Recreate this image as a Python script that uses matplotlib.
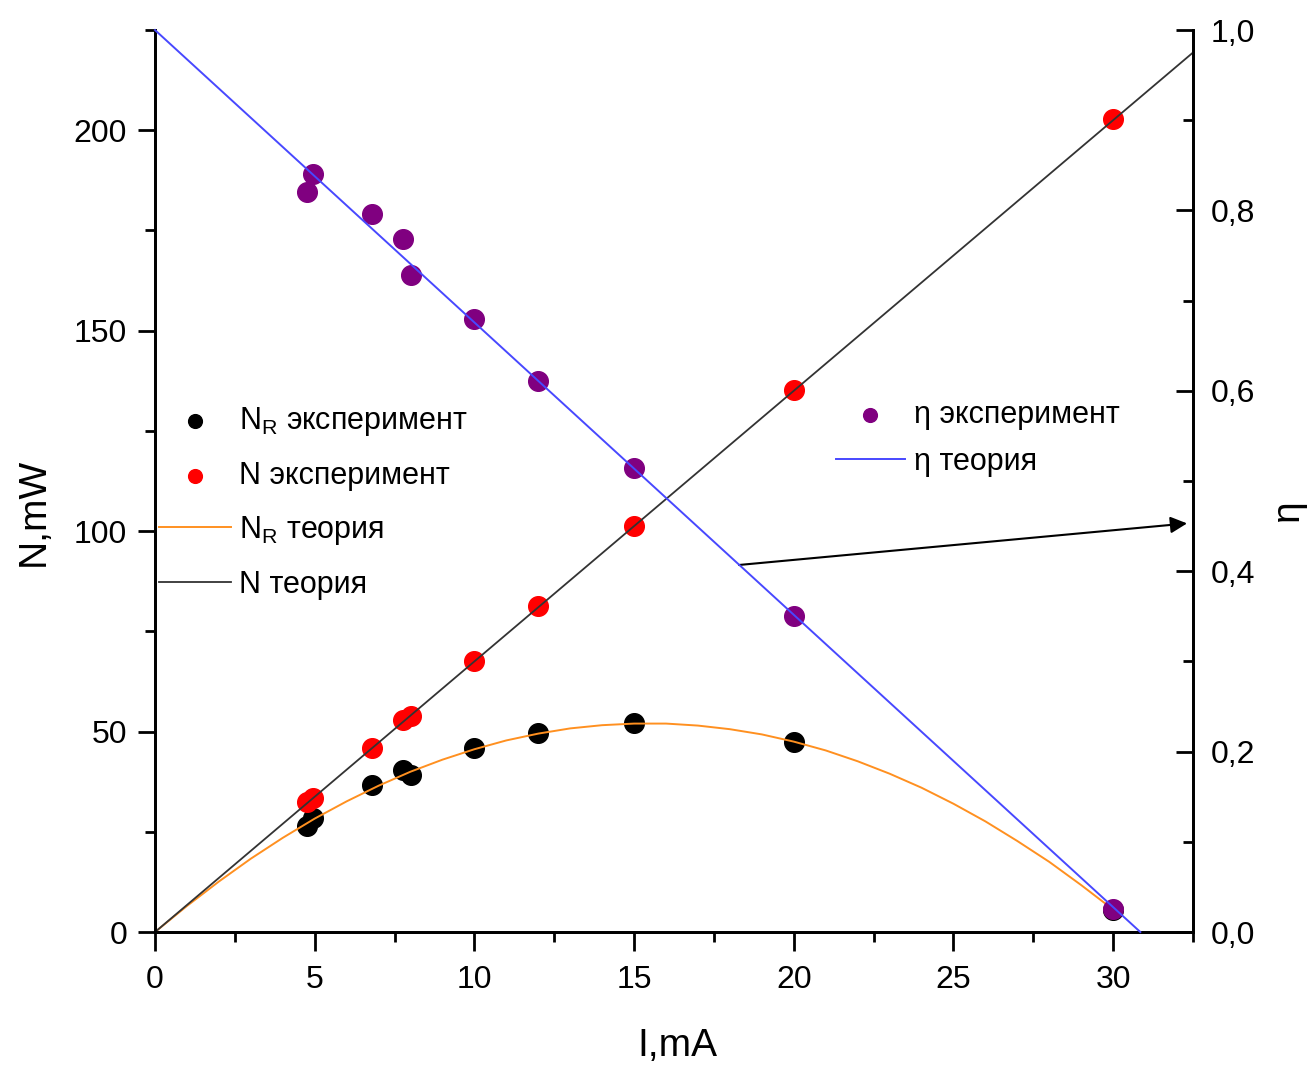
import matplotlib
matplotlib.use("Agg")
import matplotlib.pyplot as plt
from matplotlib.ticker import MultipleLocator, FuncFormatter

plt.rcParams['font.family'] = ['Liberation Sans', 'DejaVu Sans']
plt.rcParams['mathtext.fontset'] = 'custom'
plt.rcParams['mathtext.rm'] = 'Liberation Sans'
plt.rcParams['mathtext.it'] = 'Liberation Sans'

# experimental data, current in mA
I_exp = [4.75, 4.95, 6.8, 7.75, 8.0, 10.0, 12.0, 15.0, 20.0, 30.0]
NR_exp = [26.4, 28.4, 36.7, 40.4, 39.2, 45.9, 49.6, 52.1, 47.4, 5.4]
N_exp = [32.4, 33.4, 45.9, 52.9, 53.9, 67.6, 81.3, 101.2, 135.2, 202.7]
eta_exp = [0.821, 0.840, 0.796, 0.768, 0.728, 0.680, 0.611, 0.514, 0.350, 0.026]

# theory curves
I_N_th = [0, 32.5]
N_th = [0, 219.4]
I_eta_th = [0, 30.85]
eta_th = [1.0, 0.0]
I_NR_th = list(range(0, 31))
NR_th = [0, 6.5, 12.6, 18.3, 23.5, 28.3, 32.6, 36.5, 40.0, 43.0, 45.6,
         47.8, 49.5, 50.8, 51.6, 52.0, 52.0, 51.5, 50.6, 49.3, 47.5,
         45.3, 42.6, 39.5, 36.0, 32.0, 27.6, 22.7, 17.5, 11.7, 5.6]

fig = plt.figure(figsize=(13.07, 10.81), dpi=100)
ax = fig.add_axes([0.1186, 0.1378, 0.7942, 0.8344])
ax2 = ax.twinx()

ax.scatter(I_exp, NR_exp, s=200, color='black', zorder=2, label=r'N$_\mathrm{R}$ эксперимент')
ax.scatter(I_exp, N_exp, s=200, color='#ff0000', zorder=2, label='N эксперимент')
ax.plot(I_NR_th, NR_th, color='#ff9020', lw=1.4, zorder=3, label=r'N$_\mathrm{R}$ теория')
ax.plot(I_N_th, N_th, color='#333333', lw=1.3, zorder=3, label='N теория')

ax2.scatter(I_exp, eta_exp, s=200, color='#800080', zorder=2, label='η эксперимент')
ax2.plot(I_eta_th, eta_th, color='#4848ff', lw=1.4, zorder=3, label='η теория', clip_on=False)

ax.set_xlim(0, 32.5)
ax.set_ylim(0, 225)
ax2.set_ylim(0, 1.0)

for a in (ax, ax2):
    a.spines['top'].set_visible(False)
    for s in a.spines.values():
        s.set_linewidth(2)

ax.xaxis.set_major_locator(MultipleLocator(5))
ax.xaxis.set_minor_locator(MultipleLocator(2.5))
ax.yaxis.set_major_locator(MultipleLocator(50))
ax.yaxis.set_minor_locator(MultipleLocator(25))
ax2.yaxis.set_major_locator(MultipleLocator(0.2))
ax2.yaxis.set_minor_locator(MultipleLocator(0.1))
ax2.yaxis.set_major_formatter(FuncFormatter(lambda v, p: f"{v:.1f}".replace('.', ',')))

ax.tick_params(axis='x', which='major', direction='out', length=14, width=2, labelsize=23, pad=10)
ax.tick_params(axis='x', which='minor', direction='out', length=7, width=2)
ax.tick_params(axis='y', which='major', direction='out', length=12, width=2, labelsize=23, pad=8)
ax.tick_params(axis='y', which='minor', direction='out', length=7, width=2)
ax2.tick_params(axis='y', which='major', direction='in', length=12, width=2, labelsize=23, pad=13)
ax2.tick_params(axis='y', which='minor', direction='in', length=7, width=2)

ax.set_xlabel('I,mA', fontsize=28)
ax.set_ylabel('N,mW', fontsize=28)
ax2.set_ylabel('η', fontsize=28)
ax.xaxis.set_label_coords(0.503, -0.106)
ax.yaxis.set_label_coords(-0.099, 0.466)
ax2.yaxis.set_label_coords(1.074, 0.468)

# arrow pointing to the eta axis
ax.annotate('', xy=(32.4, 102), xytext=(18.2, 91.5),
            arrowprops=dict(arrowstyle='-|>', color='black', lw=1.5, mutation_scale=25),
            annotation_clip=False)

leg1 = ax.legend(loc='upper left', bbox_to_anchor=(0.004, 0.584), frameon=False,
                 fontsize=22, markerscale=0.7, handlelength=2.36, handletextpad=0.26,
                 labelspacing=0.75, borderaxespad=0, borderpad=0)
leg2 = ax2.legend(loc='upper left', bbox_to_anchor=(0.656, 0.590), frameon=False,
                  fontsize=22, markerscale=0.7, handlelength=2.26, handletextpad=0.3,
                  labelspacing=0.55, borderaxespad=0, borderpad=0)

fig.savefig('out.png', dpi=100)
